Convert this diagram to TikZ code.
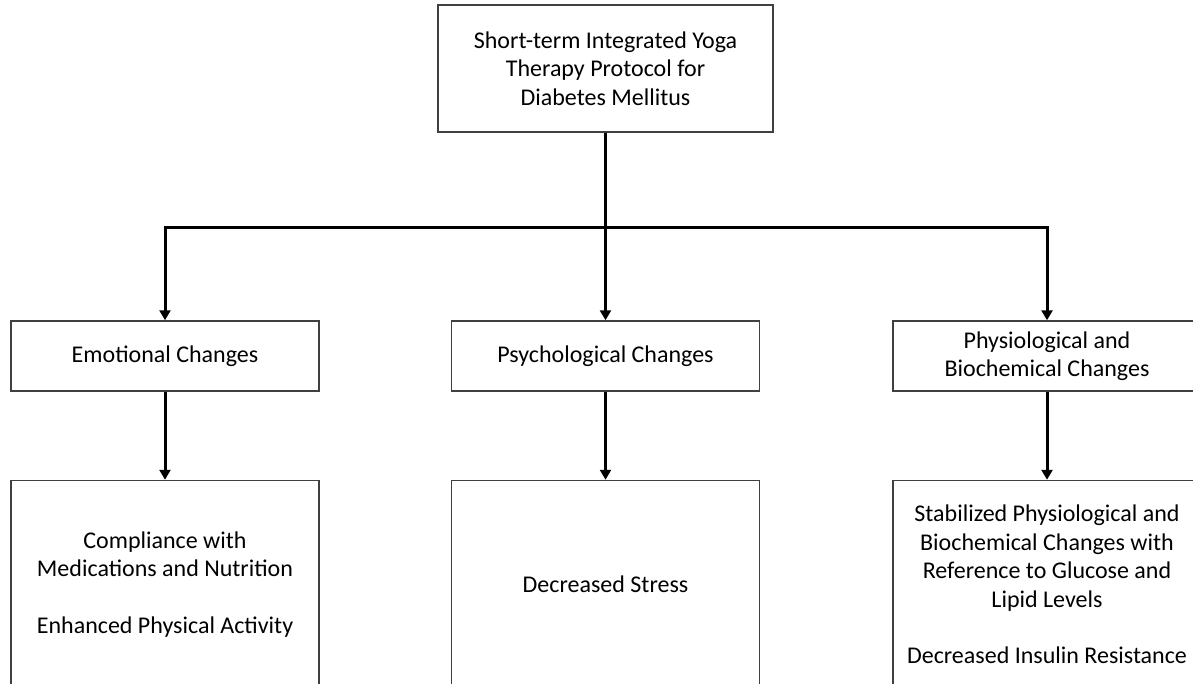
\documentclass[tikz,border=0pt]{standalone}
\usepackage{fontspec}
\setmainfont{Carlito}
\usepackage{tikz}
\usetikzlibrary{arrows.meta, positioning}
\tikzset{
  %% Main boxes
  topbox/.style={
    rectangle, draw=black!75, line width=0.75pt, fill=white,
    minimum width=167.5pt, minimum height=63.5pt, inner sep=0pt,
    align=center, font=\fontsize{12}{14.2}\selectfont},
  midbox/.style={
    rectangle, draw=black!75, line width=0.75pt, fill=white,
    minimum width=154pt, minimum height=35pt, inner sep=0pt,
    align=center, font=\fontsize{12}{14.2}\selectfont},
  outbox/.style={
    rectangle, draw=black!75, line width=0.75pt, fill=white,
    minimum width=154pt, minimum height=104pt, inner sep=0pt,
    align=center, font=\fontsize{12}{14.2}\selectfont},
  %% Arrows
  arrow/.style={-{Triangle[length=5pt,width=5.5pt]}, line width=1.5pt, black},
}
\begin{document}
\begin{tikzpicture}[x=0.5pt, y=-0.5pt]

  \useasboundingbox (0,0) rectangle (1193,684);
  \clip (0,0) rectangle (1193,684);

  \node[topbox] (yoga) at (605.5,68.5)
        {Short-term Integrated Yoga\\ Therapy Protocol for\\ Diabetes Mellitus};

  \node[midbox] (emo)  at (165,356)   {Emotional Changes};
  \node[midbox] (psy)  at (605.5,356) {Psychological Changes};
  \node[midbox] (phys) at (1047,356)  {Physiological and\\ Biochemical Changes};

  \node[outbox, below=44pt of emo] (comp)
        {Compliance with\\ Medications and Nutrition\\[14pt] Enhanced Physical Activity};
  \node[outbox, below=44pt of psy] (stress)
        {Decreased Stress};
  \node[outbox, below=44pt of phys] (stab)
        {Stabilized Physiological and\\ Biochemical Changes with\\ Reference to Glucose and\\ Lipid Levels\\[14pt] Decreased Insulin Resistance};

  %% Branches from the protocol
  \draw[arrow] (yoga.south) -- ++(0,95) -| (emo.north);
  \draw[arrow] (yoga.south) -- ++(0,95) -| (phys.north);
  \draw[arrow] (yoga.south) -- (psy.north);

  %% Outcomes
  \draw[arrow] (emo)  -- (comp);
  \draw[arrow] (psy)  -- (stress);
  \draw[arrow] (phys) -- (stab);

\end{tikzpicture}
\end{document}
